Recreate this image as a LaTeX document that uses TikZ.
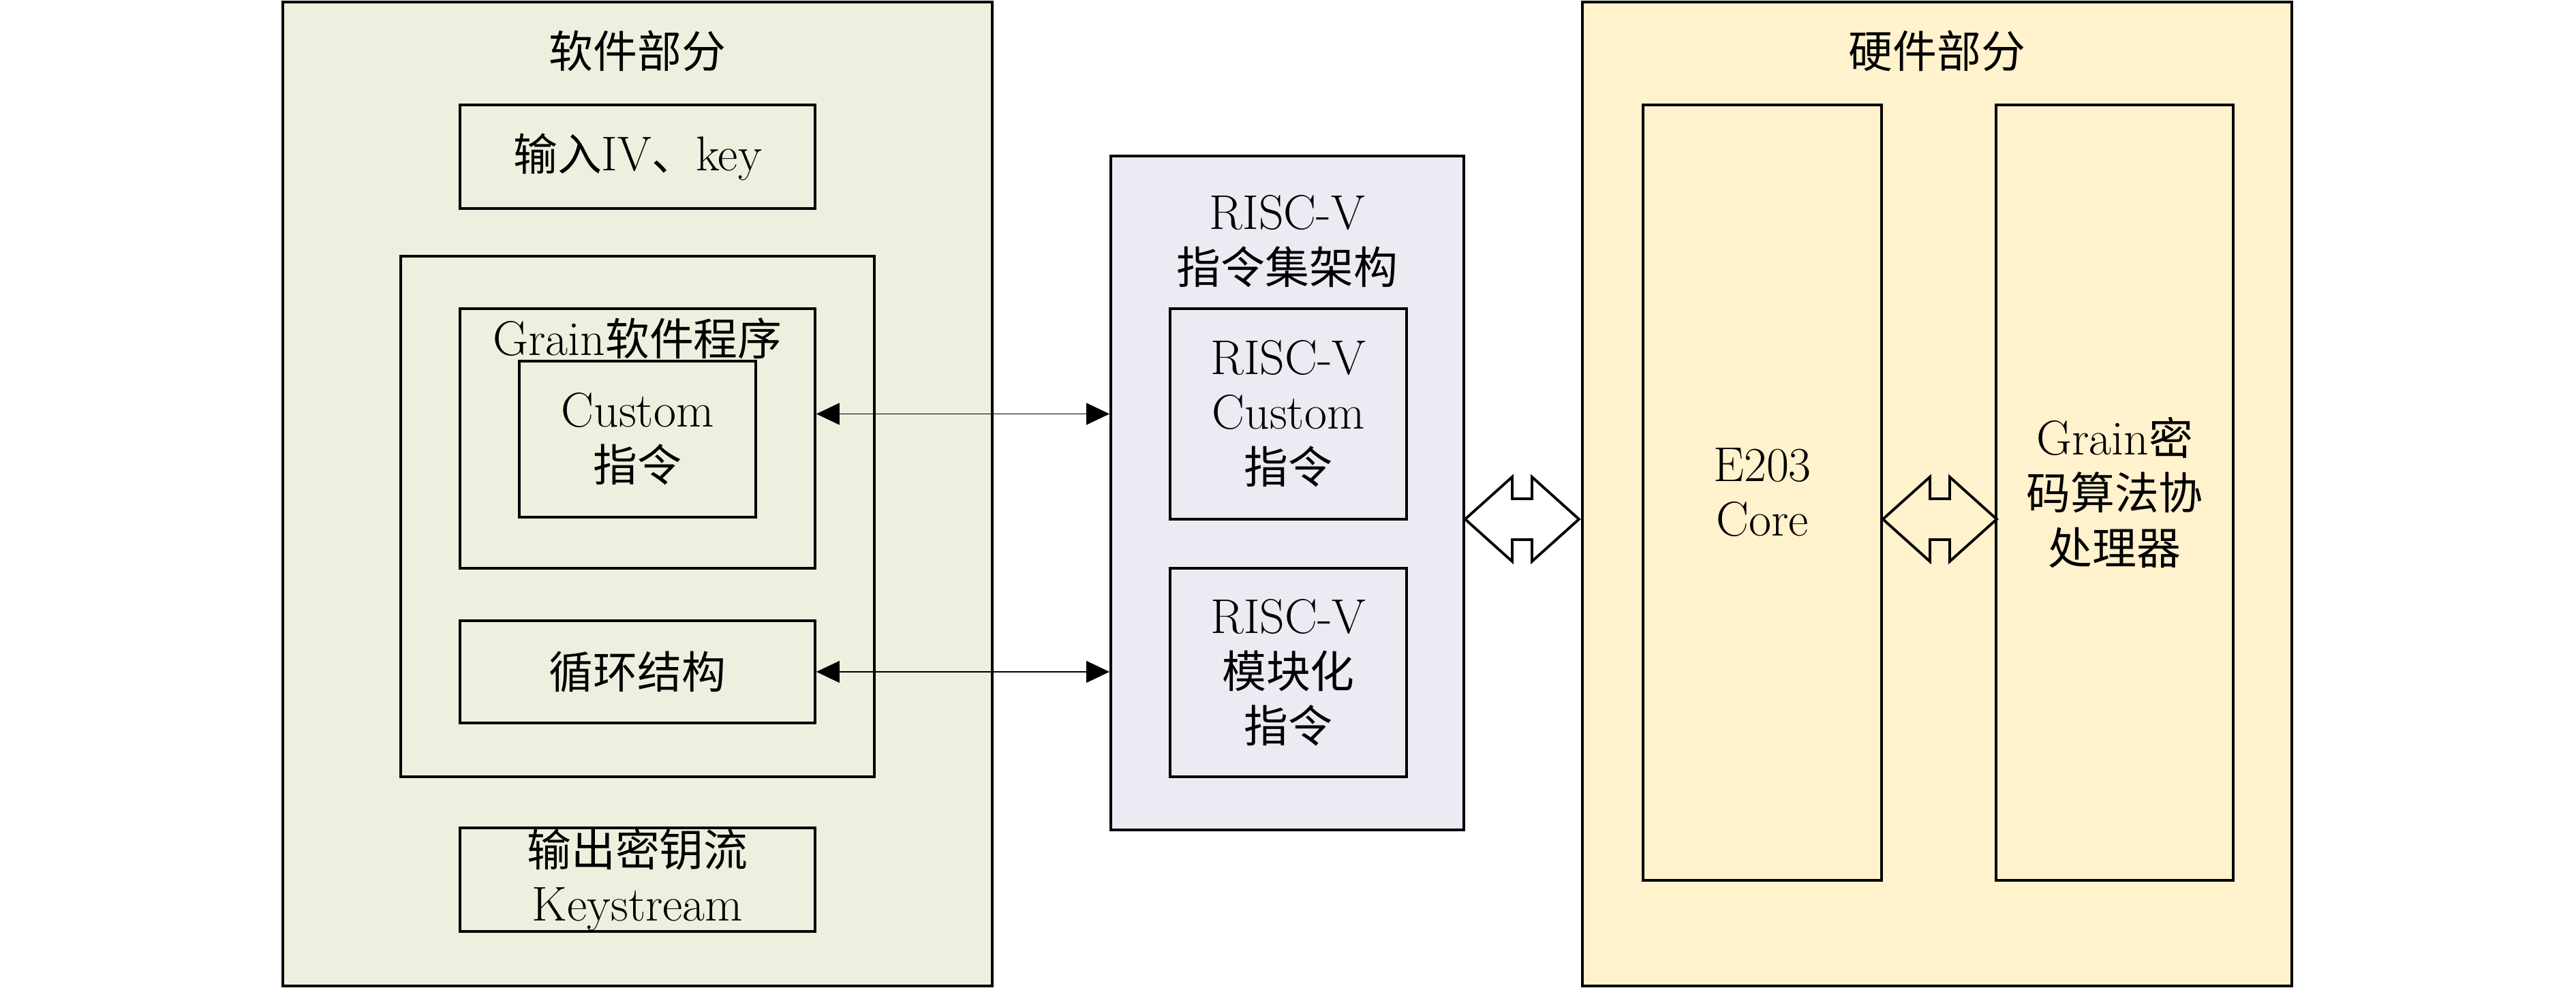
\documentclass[tikz,border=0pt]{standalone}
\usepackage{fontspec}
\newfontfamily\cjk[Scale=0.905]{Noto Sans CJK SC}
\usetikzlibrary{arrows.meta,positioning,calc}
\definecolor{swgreen}{RGB}{235,241,222}
\definecolor{isagray}{RGB}{236,234,242}
\definecolor{hwyellow}{RGB}{255,242,204}

\begin{document}
\begin{tikzpicture}[
    box/.style={draw, line width=1.1pt, align=center, inner sep=0pt},
    txt/.style={align=center, inner sep=0pt},
    arr/.style={{Triangle[length=3.4mm,width=3.2mm]}-{Triangle[length=3.4mm,width=3.2mm]}, line width=0.4pt},
    dbl/.pic={\draw[line width=1.1pt] (0,0) -- ++(0.69,0.62) -- ++(0,-0.32) -- ++(0.29,0) -- ++(0,0.32) -- ++(0.69,-0.62) -- ++(-0.69,-0.62) -- ++(0,0.32) -- ++(-0.29,0) -- ++(0,-0.32) -- cycle;},
    font=\fontsize{20.4}{22.8}\selectfont
]
\useasboundingbox (0,0) rectangle (37.8,14.5);

% software side
\node[box, fill=swgreen, minimum width=10.41cm, minimum height=14.44cm] (sw) at (9.355,7.25) {};
\node[txt] (swt) at (9.355,13.75) {\cjk 软件部分};
\node[box, minimum width=5.21cm, minimum height=1.52cm] (in) at (9.355,12.2) {{\cjk 输入}IV{\cjk 、}key};
\node[box, minimum width=6.95cm, minimum height=7.64cm] (frame) at (9.355,6.92) {};
\node[box, minimum width=5.21cm, minimum height=3.81cm] (grain) at (9.355,8.065) {};
\node[txt] (graint) at (9.355,9.53) {Grain{\cjk 软件程序}};
\node[box, minimum width=3.47cm, minimum height=2.29cm] (cust) at (9.355,8.055) {Custom\\{\cjk 指令}};
\node[box, minimum width=5.21cm, minimum height=1.5cm] (loop) at (9.355,4.64) {\cjk 循环结构};
\node[box, minimum width=5.21cm, minimum height=1.52cm] (out) at (9.355,1.59) {{\cjk 输出密钥流}\\Keystream};

% instruction set
\node[box, fill=isagray, minimum width=5.18cm, minimum height=9.89cm] (isa) at (18.89,7.265) {};
\node[txt] (isat) at (18.89,10.955) {RISC-V\\{\cjk 指令集架构}};
\node[box, minimum width=3.47cm, minimum height=3.09cm] (rvc) at (18.905,8.425) {RISC-V\\Custom\\{\cjk 指令}};
\node[box, minimum width=3.47cm, minimum height=3.06cm] (rvm) at (18.905,4.63) {RISC-V\\{\cjk 模块化}\\{\cjk 指令}};

% hardware side
\node[box, fill=hwyellow, minimum width=10.41cm, minimum height=14.44cm] (hw) at (28.425,7.25) {};
\node[txt] (hwt) at (28.425,13.75) {\cjk 硬件部分};
\node[box, minimum width=3.5cm, minimum height=11.38cm] (core) at (25.86,7.27) {E203\\Core};
\node[box, minimum width=3.48cm, minimum height=11.38cm] (cop) at (31.03,7.27) {Grain{\cjk 密}\\{\cjk 码算法协}\\{\cjk 处理器}};

\draw[arr] (grain.east |- rvc) -- (isa.west |- rvc);
\draw[arr] (loop.east) -- (loop.east -| isa.west);
\pic at (isa.east |- 0,6.88) {dbl};
\pic at (core.east |- 0,6.88) {dbl};
\end{tikzpicture}
\end{document}
